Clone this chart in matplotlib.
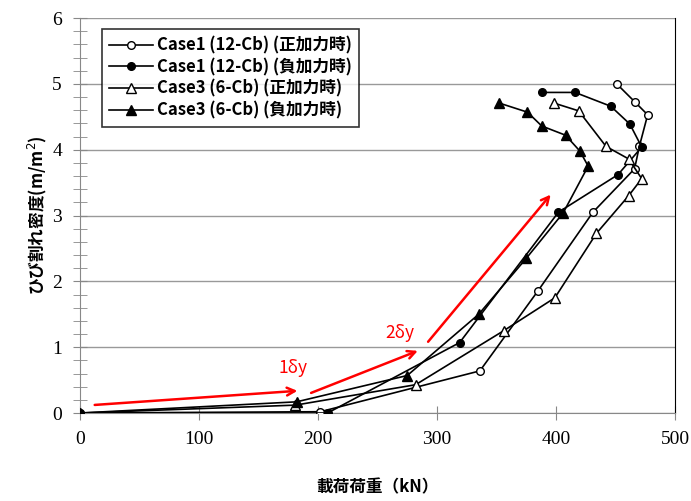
import matplotlib
matplotlib.use('Agg')
import matplotlib.pyplot as plt
from matplotlib.ticker import MultipleLocator

plt.rcParams['font.family'] = ['Noto Sans CJK JP', 'DejaVu Sans']

# Case1 (12-Cb), positive loading
c1_pos_x = [0, 202, 336, 385, 431, 466, 470, 477, 466, 451]
c1_pos_y = [0, 0.02, 0.64, 1.86, 3.05, 3.71, 4.05, 4.53, 4.73, 5.00]
# Case1 (12-Cb), negative loading
c1_neg_x = [0, 208, 319, 402, 452, 472, 462, 446, 416, 388]
c1_neg_y = [0, 0.0, 1.07, 3.05, 3.62, 4.04, 4.39, 4.66, 4.87, 4.87]
# Case3 (6-Cb), positive loading
c3_pos_x = [0, 181, 282, 356, 399, 434, 461, 472, 461, 442, 419, 398]
c3_pos_y = [0, 0.12, 0.43, 1.25, 1.75, 2.73, 3.30, 3.56, 3.86, 4.05, 4.59, 4.71]
# Case3 (6-Cb), negative loading
c3_neg_x = [0, 182, 275, 335, 375, 406, 427, 420, 408, 388, 376, 352]
c3_neg_y = [0, 0.17, 0.57, 1.50, 2.35, 3.04, 3.75, 3.98, 4.22, 4.36, 4.57, 4.71]

labels = ['Case1 (12-Cb) (正加力時)', 'Case1 (12-Cb) (負加力時)',
          'Case3 (6-Cb) (正加力時)', 'Case3 (6-Cb) (負加力時)']

# red arrows: (x0, y0, x1, y1)
arrows = [(10, 0.12, 185, 0.34), (192, 0.29, 286, 0.96), (291, 1.05, 397, 3.35)]
notes = [('1δy', 179, 0.68), ('2δy', 269, 1.22)]

fig = plt.figure(figsize=(6.91, 5.01), dpi=100)
ax = fig.add_axes([0.1158, 0.1756, 0.8611, 0.7884])

ax.plot(c1_pos_x, c1_pos_y, color='black', lw=1.2, marker='o', ms=5.5,
        mfc='white', mec='black', mew=1, label=labels[0], zorder=3)
ax.plot(c1_neg_x, c1_neg_y, color='black', lw=1.2, marker='o', ms=5.5,
        mfc='black', mec='black', label=labels[1], zorder=3)
ax.plot(c3_pos_x, c3_pos_y, color='black', lw=1.2, marker='^', ms=6.5,
        mfc='white', mec='black', mew=1, label=labels[2], zorder=3)
ax.plot(c3_neg_x, c3_neg_y, color='black', lw=1.2, marker='^', ms=6.5,
        mfc='black', mec='black', label=labels[3], zorder=3)

for x0, y0, x1, y1 in arrows:
    ax.annotate('', xy=(x1, y1), xytext=(x0, y0),
                arrowprops=dict(arrowstyle='->', color='red', lw=1.8,
                                mutation_scale=14), zorder=4)
for txt, x, y in notes:
    ax.text(x, y, txt, color='red', fontsize=12.5, ha='center', va='center')

ax.set_xlim(0, 500)
ax.set_ylim(0, 6)
ax.xaxis.set_major_locator(MultipleLocator(100))
ax.yaxis.set_major_locator(MultipleLocator(1))
ax.yaxis.set_minor_locator(MultipleLocator(0.2))
ax.tick_params(axis='both', which='both', direction='inout', color='#888888',
               labelsize=14, pad=8)
ax.tick_params(axis='y', which='major', length=10)
ax.tick_params(axis='y', which='minor', length=10)
ax.tick_params(axis='x', which='major', length=10)
for lab in ax.get_xticklabels() + ax.get_yticklabels():
    lab.set_family('Liberation Serif')

ax.grid(axis='y', color='#999999', lw=1)
ax.set_axisbelow(True)
ax.spines['top'].set_visible(False)
ax.spines['left'].set_color('#888888')
ax.spines['bottom'].set_color('#888888')
ax.spines['right'].set_color('black')

ax.set_xlabel('載荷荷重（kN）', fontsize=12, fontweight='bold', labelpad=22)
ax.set_ylabel('ひび割れ密度(m/m$^2$)', fontsize=12, fontweight='bold', labelpad=2)

leg = ax.legend(loc='upper left', bbox_to_anchor=(0.028, 0.985), fontsize=12,
                frameon=True, fancybox=False, edgecolor='black', handlelength=2.6,
                borderpad=0.45, labelspacing=0.22, handletextpad=0.25,
                borderaxespad=0.3)
leg.get_frame().set_linewidth(1.2)
for t in leg.get_texts():
    t.set_fontweight('bold')

fig.savefig('out.png', dpi=100)
